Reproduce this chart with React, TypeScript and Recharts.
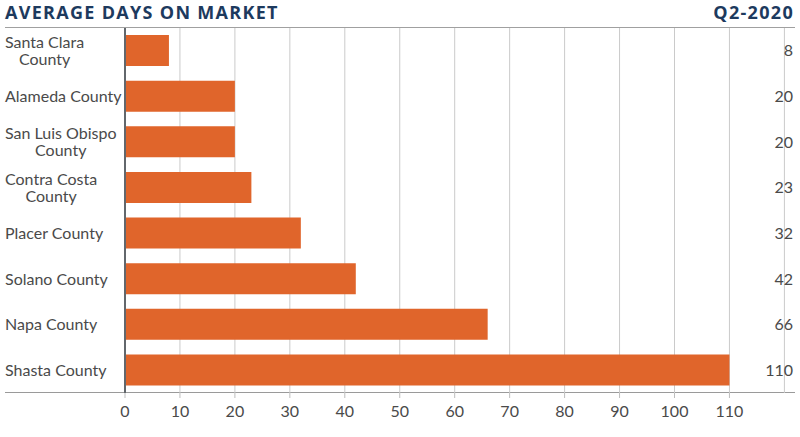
import React from "react";
import { BarChart, Bar, XAxis, YAxis, CartesianGrid } from "recharts";

const counties = [
  "Santa Clara County",
  "Alameda County",
  "San Luis Obispo County",
  "Contra Costa County",
  "Placer County",
  "Solano County",
  "Napa County",
  "Shasta County",
];
const days = [8, 20, 20, 23, 32, 42, 66, 110];
const xTicks = [0, 10, 20, 30, 40, 50, 60, 70, 80, 90, 100, 110];
const title = "AVERAGE DAYS ON MARKET";
const period = "Q2-2020";

const data = counties.map((name, i) => ({ name, value: days[i] }));

const FONT = "Lato, 'Open Sans', sans-serif";
const TITLE_FONT = "'Open Sans', Lato, sans-serif";
const LABEL_COLOR = "#4a4a4a";
const BAR_COLOR = "#e0652b";
const NAVY = "#1d3a5e";
const FS = 16;

let ctx: CanvasRenderingContext2D | null = null;
function textWidth(s: string) {
  if (!ctx) {
    ctx = document.createElement("canvas").getContext("2d");
  }
  if (!ctx) return s.length * 8;
  ctx.font = `${FS}px ${FONT}`;
  return ctx.measureText(s).width;
}

// long names get "County" pushed to a second line
function wrap(name: string): string[] {
  if (name.length <= 15) return [name];
  const idx = name.lastIndexOf(" ");
  return [name.slice(0, idx), name.slice(idx + 1)];
}

const CountyTick = (props: any) => {
  const { y, payload } = props;
  const lines = wrap(payload.value);
  if (lines.length === 1) {
    return (
      <text x={5} y={y} dy="0.35em" fontSize={FS} fontFamily={FONT} fill={LABEL_COLOR} textAnchor="start">
        {lines[0]}
      </text>
    );
  }
  const w = Math.max(...lines.map(textWidth));
  const cx = 5 + w / 2;
  return (
    <text fontSize={FS} fontFamily={FONT} fill={LABEL_COLOR} textAnchor="middle">
      {lines.map((l, i) => (
        <tspan key={i} x={cx} y={y + (i - (lines.length - 1) / 2) * 17} dy="0.35em">
          {l}
        </tspan>
      ))}
    </text>
  );
};

const ValueTick = (props: any) => {
  const { y, payload } = props;
  const row = data.find((d) => d.name === payload.value);
  return (
    <text x={793} y={y} dy="0.35em" fontSize={FS} fontFamily={FONT} fill={LABEL_COLOR} textAnchor="end">
      {row ? row.value : ""}
    </text>
  );
};

const headStyle: React.CSSProperties = {
  position: "absolute",
  top: 0,
  fontFamily: TITLE_FONT,
  fontSize: 18,
  fontWeight: 700,
  letterSpacing: 1.3,
  color: NAVY,
  lineHeight: "25px",
};

export default function App() {
  return (
    <div style={{ position: "absolute", left: 0, top: 0, width: 800, height: 437, background: "#fff", fontFamily: FONT }}>
      <div style={{ ...headStyle, left: 5 }}>{title}</div>
      <div style={{ ...headStyle, right: 6 }}>{period}</div>
      <div style={{ position: "absolute", left: 5, top: 27, width: 790, height: 1, background: "#a0a0a0" }} />
      <div style={{ position: "absolute", left: 5, top: 392, width: 790, height: 1, background: "#9a9a9a" }} />
      <div style={{ position: "absolute", left: 0, top: 28 }}>
        <BarChart
          layout="vertical"
          width={800}
          height={409}
          data={data}
          margin={{ top: 0, right: 0, left: 0, bottom: 14 }}
          barSize={31}
        >
          <CartesianGrid horizontal={false} vertical={true} stroke="#cacaca" strokeWidth={1} />
          <XAxis
            type="number"
            domain={[0, 120]}
            ticks={xTicks}
            interval={0}
            height={30}
            axisLine={false}
            tickLine={{ stroke: "#bdbdbd" }}
            tickSize={5}
            tick={{ fontSize: FS, fontFamily: FONT, fill: LABEL_COLOR }}
            tickMargin={8}
          />
          <YAxis
            yAxisId="left"
            type="category"
            dataKey="name"
            width={125}
            axisLine={{ stroke: "#62676c", strokeWidth: 2 }}
            tickLine={false}
            tick={<CountyTick />}
            interval={0}
          />
          <YAxis
            yAxisId="right"
            orientation="right"
            type="category"
            dataKey="name"
            width={15.6}
            axisLine={false}
            tickLine={false}
            tick={<ValueTick />}
            interval={0}
          />
          <Bar yAxisId="left" dataKey="value" fill={BAR_COLOR} isAnimationActive={false} />
        </BarChart>
      </div>
    </div>
  );
}
